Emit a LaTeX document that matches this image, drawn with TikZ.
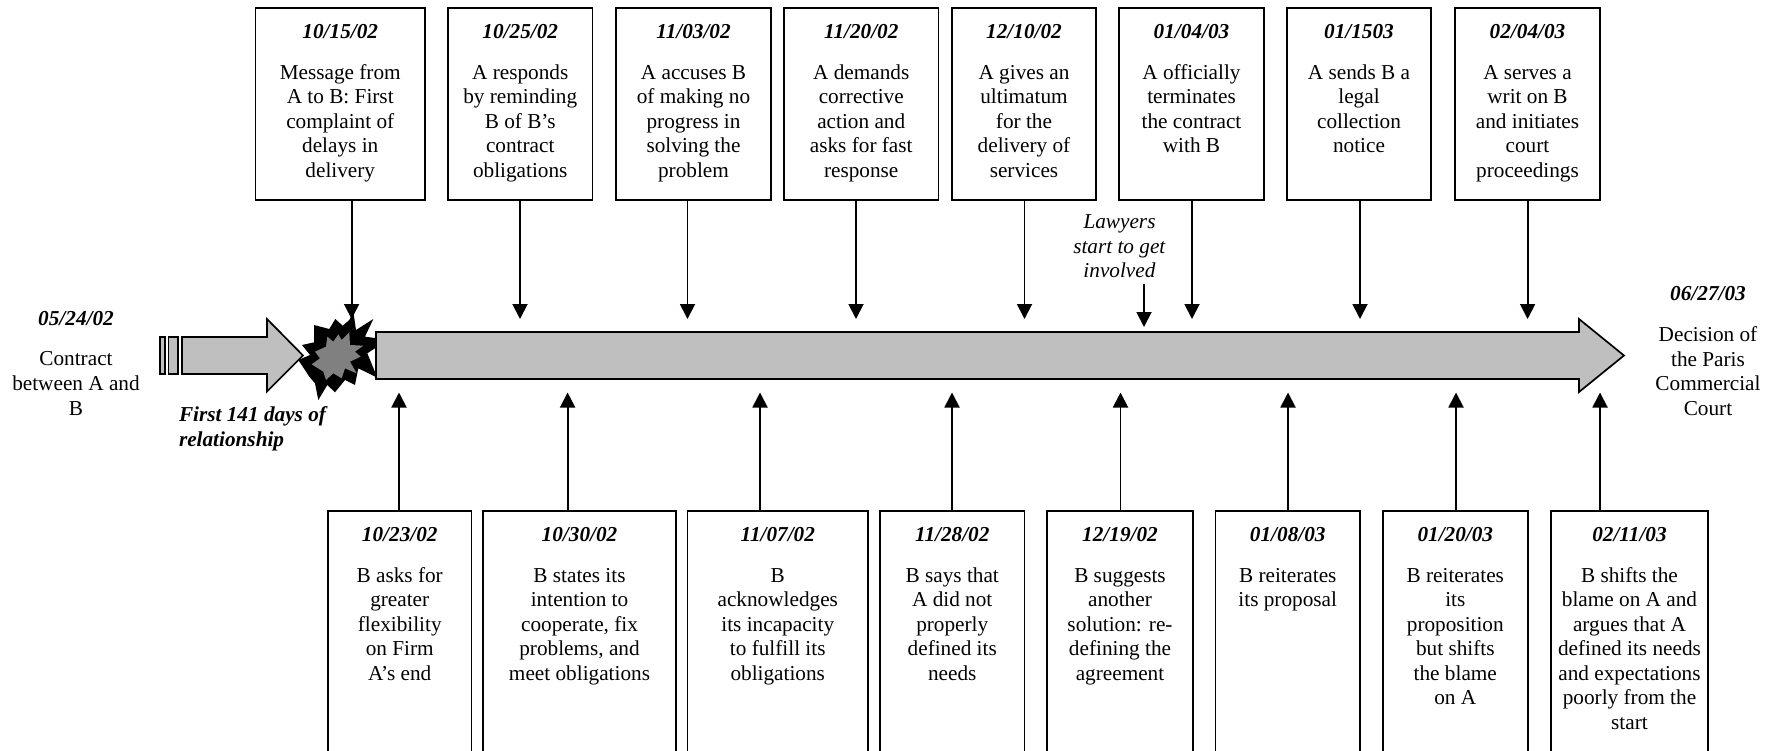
\documentclass[tikz,border=0pt]{standalone}
\usepackage{fontspec}
\setmainfont{Liberation Serif}
\usetikzlibrary{arrows.meta}
\tikzset{
  evbox/.style={draw=black,line width=1.9pt,fill=white,inner sep=0pt,outer sep=0pt,anchor=north west},
  conn/.style={draw=black,line width=1.9pt,-{Triangle[length=15pt,width=15pt]},shorten >=0pt},
  bar/.style={draw=black,line width=1.7pt,fill=barfill,line join=miter},
  plain/.style={align=center,inner sep=0pt,outer sep=0pt},
}
\definecolor{barfill}{HTML}{BFBFBF}
\newcommand{\tf}{\fontsize{21.25pt}{24.55pt}\selectfont}
\newcommand{\evnode}[7]{% name, x1, x2, ytop, ybot, date, body
  \pgfmathsetlengthmacro{\bw}{#3-#2}\pgfmathsetlengthmacro{\bh}{#5-#4}%
  \node[evbox] (#1) at (#2,#4) {\parbox[c][\bh][t]{\bw}{\centering\tf\vspace{16pt}\textbf{\textit{#6}}\par\vspace{16.5pt}#7\par}};}
\begin{document}
\begin{tikzpicture}[x=1pt,y=-1pt]
\useasboundingbox (0,0) rectangle (1773,750);
\clip (0,0) rectangle (1773,750);
% top boxes
\evnode{t1}{255.5}{425}{8}{200}{10/15/02}{Message from\\A to B: First\\complaint of\\delays in\\delivery}
\evnode{t2}{448}{592.5}{8}{200}{10/25/02}{A responds\\by reminding\\B of B’s\\contract\\obligations}
\evnode{t3}{616}{771}{8}{200}{11/03/02}{A accuses B\\of making no\\progress in\\solving the\\problem}
\evnode{t4}{784}{938.5}{8}{200}{11/20/02}{A demands\\corrective\\action and\\asks for fast\\response}
\evnode{t5}{952}{1096}{8}{200}{12/10/02}{A gives an\\ultimatum\\for the\\delivery of\\services}
\evnode{t6}{1119}{1264}{8}{200}{01/04/03}{A officially\\terminates\\the contract\\with B}
\evnode{t7}{1287}{1431}{8}{200}{01/1503}{A sends B a\\legal\\collection\\notice}
\evnode{t8}{1455}{1600}{8}{200}{02/04/03}{A serves a\\writ on B\\and initiates\\court\\proceedings}
% bottom boxes
\evnode{b1}{328}{471.5}{511}{770}{10/23/02}{B asks for\\greater\\flexibility\\on Firm\\A’s end}
\evnode{b2}{483}{676}{511}{770}{10/30/02}{B states its\\intention to\\cooperate, fix\\problems, and\\meet obligations}
\evnode{b3}{687.5}{868}{511}{770}{11/07/02}{B\\acknowledges\\its incapacity\\to fulfill its\\obligations}
\evnode{b4}{880}{1024.5}{511}{770}{11/28/02}{B says that\\A did not\\properly\\defined its\\needs}
\evnode{b5}{1047}{1193}{511}{770}{12/19/02}{B suggests\\another\\solution: re-\\defining the\\agreement}
\evnode{b6}{1215.5}{1360}{511}{770}{01/08/03}{B reiterates\\its proposal}
\evnode{b7}{1383}{1527.6}{511}{770}{01/20/03}{B reiterates\\its\\proposition\\but shifts\\the blame\\on A}
\evnode{b8}{1551}{1708}{511}{770}{02/11/03}{B shifts the\\blame on A and\\argues that A\\defined its needs\\and expectations\\poorly from the\\start}
% explosion
\begin{scope}[shift={(290,305)},x=0.3333pt,y=-0.3333pt]
\fill[black] (36,120)--(72,112)--(72,60)--(118,72)--(136,42)--(158,62)--(178,45)--(190,20)--(198,75)--(250,42)--(225,95)--(262,100)--(262,125)--(232,145)--(262,218)--(205,190)--(195,240)--(165,225)--(135,262)--(112,240)--(85,285)--(75,235)--(58,215)--(25,165)--(60,150)--cycle;
\fill[gray] (75,140)--(108,125)--(112,95)--(130,110)--(145,88)--(155,105)--(178,82)--(180,120)--(220,122)--(195,140)--(212,155)--(180,170)--(200,205)--(165,190)--(155,220)--(130,205)--(108,225)--(100,200)--(65,178)--(90,160)--cycle;
\end{scope}
% small arrow
\draw[bar] (160,337) rectangle (165,374);
\draw[bar] (168.5,337) rectangle (178,374);
\draw[bar] (182,337)--(267,337)--(267,319)--(303,355.5)--(267,391.5)--(267,374)--(182,374)--cycle;
% main arrow
\draw[bar] (376,332)--(1579,332)--(1579,319)--(1624,355.5)--(1579,392)--(1579,379)--(376,379)--cycle;
% arrow tips
\foreach \n/\x in {t1/351.6,t2/520,t3/687.5,t4/856,t5/1024.5,t6/1192,t7/1360,t8/1527.6}{
  \coordinate (tip\n) at (\x,319);
  \draw[conn] (tip\n |- \n.south) -- (tip\n);
}
\foreach \n/\x in {b1/399,b2/567.6,b3/760,b4/952,b5/1120.5,b6/1288,b7/1456,b8/1600}{
  \coordinate (tip\n) at (\x,392.5);
  \draw[conn] (tip\n |- \n.north) -- (tip\n);
}
% free text
\node[plain,font=\tf] (law) at (1119.5,246.5) {\textit{Lawyers}\\\textit{start to get}\\\textit{involved}};
\coordinate (lawtip) at (1144,327);
\coordinate (lawtail) at (1144,284);
\draw[conn] (lawtail) -- (lawtip);
\node[plain,font=\tf] (start) at (76,319) {\textbf{\textit{05/24/02}}};
\node[plain,font=\tf] (startt) at (76,383.5) {Contract\\between A and\\B};
\node[plain,font=\tf] (end) at (1708,294) {\textbf{\textit{06/27/03}}};
\node[plain,font=\tf] (endt) at (1708,371) {Decision of\\the Paris\\Commercial\\Court};
\node[plain,font=\tf,align=left,anchor=west] (first) at (179,428.5) {\textbf{\textit{First 141 days of}}\\\textbf{\textit{relationship}}};
\end{tikzpicture}
\end{document}
